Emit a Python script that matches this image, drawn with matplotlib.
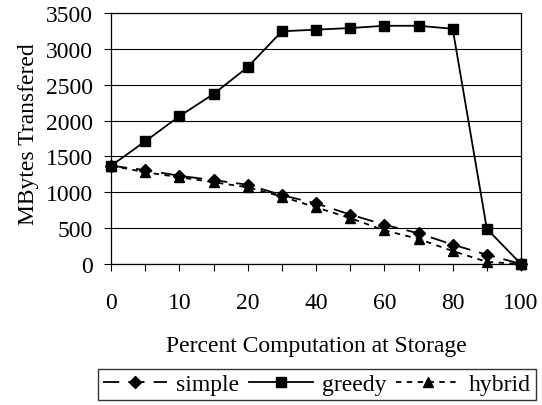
import matplotlib
import matplotlib.pyplot as plt
matplotlib.use('agg')

categories = ["0", "5", "10", "15", "20", "30", "40", "50", "60", "70", "80", "90", "100"]
tick_labels = ["0", "", "10", "", "20", "", "40", "", "60", "", "80", "", "100"]
simple = [1370, 1310, 1230, 1170, 1105, 960, 845, 690, 548, 428, 270, 130, 0]
greedy = [1370, 1710, 2060, 2370, 2745, 3245, 3268, 3290, 3322, 3322, 3280, 490, 0]
hybrid = [1370, 1280, 1210, 1140, 1070, 940, 790, 640, 470, 350, 180, 30, 0]


def main():
    plt.rcParams['font.family'] = ['Liberation Serif']
    plt.rcParams['font.size'] = 17

    fig = plt.figure(figsize=(5.42, 4.06), dpi=100)
    ax = fig.add_axes([0.2048, 0.3473, 0.7565, 0.6182])
    x = range(len(categories))

    ax.plot(x, simple, color='black', linestyle=(0, (9, 5)), lw=1.3,
            marker='D', markersize=6, label='simple', clip_on=False)
    ax.plot(x, greedy, color='black', linestyle='-', lw=1.3,
            marker='s', markersize=7.5, label='greedy', clip_on=False)
    ax.plot(x, hybrid, color='black', linestyle=(0, (3, 3)), lw=1.3,
            marker='^', markersize=7, label='hybrid', clip_on=False)

    ax.set_xlim(0, len(categories) - 1)
    ax.set_ylim(0, 3500)
    ax.set_yticks(range(0, 3501, 500))
    ax.set_xticks(list(x))
    ax.set_xticklabels(tick_labels)
    ax.yaxis.grid(True, color='black', lw=0.8)
    ax.set_axisbelow(True)
    for s in ax.spines.values():
        s.set_linewidth(0.9)
    ax.tick_params(axis='x', direction='out', length=5, pad=15, width=0.8)
    ax.tick_params(axis='y', direction='out', length=5, pad=8, width=0.8)

    ax.set_xlabel("Percent Computation at Storage", va='center')
    ax.xaxis.set_label_coords(0.5, -0.323)
    ax.set_ylabel("MBytes Transfered", va='center')
    ax.yaxis.set_label_coords(-0.2, 0.52)

    fig.legend(loc='center', bbox_to_anchor=(0.585, 0.0505), ncol=3,
               frameon=True, fancybox=False, edgecolor='black',
               handlelength=2.7, columnspacing=0.4, handletextpad=0.4,
               borderpad=0.2, borderaxespad=0)
    plt.savefig("out.png")


if __name__ == "__main__":
    main()
